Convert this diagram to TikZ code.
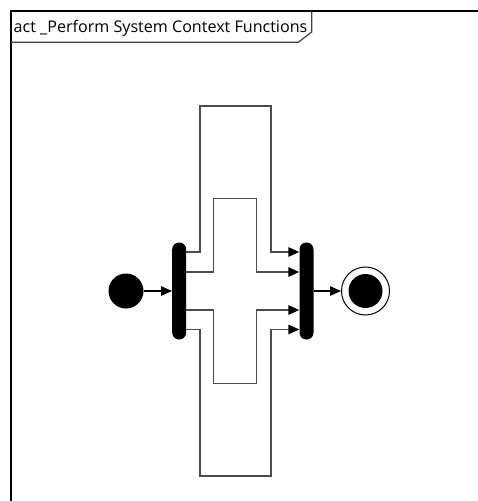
\documentclass[tikz,border=0pt]{standalone}
\usepackage{fontspec}
\setmainfont{Open Sans}
\usetikzlibrary{arrows.meta}
\begin{document}
\begin{tikzpicture}[x=1bp,y=-1bp,
  flow/.style={draw=black!70,line width=1.4bp},
  tip/.style={-{Triangle[length=11bp,width=9.5bp,color=black]}},
  forkbar/.style={fill=black,rounded corners=6.8bp,minimum width=14bp,minimum height=97bp,inner sep=0pt,draw=none},
  frameline/.style={draw=black,line width=2bp},
  tabline/.style={draw=black!75,line width=1.2bp}]
\useasboundingbox (0,0) rectangle (478,501);
\fill[white] (0,0) rectangle (478,501);
% frame
\draw[frameline] (11,505) -- (11,11.5) -- (482,11.5);
\draw[tabline] (11,42.3) -- (298.3,42.3) -- (311.7,32) -- (311.7,11.5);
\node[anchor=base west,inner sep=0pt,font=\fontsize{16.1bp}{18bp}\selectfont] (title) at (13.5,33) {act \_Perform System Context Functions};
% nodes
\node[circle,fill=black,minimum size=35bp,inner sep=0pt] (init) at (126,291) {};
\node[forkbar] (fork) at (179.2,291) {};
\node[forkbar] (join) at (306.5,291) {};
\node[circle,draw=black,line width=1bp,minimum size=48bp,inner sep=0pt] (final) at (365.5,291) {};
\node[circle,fill=black,minimum size=34bp,inner sep=0pt] (finaldot) at (365.5,291) {};
% connectors
\draw[line width=1.4bp,tip] (init) -- (fork);
\draw[line width=1.4bp,tip] (join) -- (final);
\draw[flow,tip] (fork.east |- 0,252) -| (200,106) -| (271,252) -- (join.west |- 0,252);
\draw[flow,tip] (fork.east |- 0,272) -| (213.3,198.3) -| (256.7,272) -- (join.west |- 0,272);
\draw[flow,tip] (fork.east |- 0,310) -| (213.3,383.3) -| (256.7,310) -- (join.west |- 0,310);
\draw[flow,tip] (fork.east |- 0,329.5) -| (200,476) -| (271,329.5) -- (join.west |- 0,329.5);
\end{tikzpicture}
\end{document}
